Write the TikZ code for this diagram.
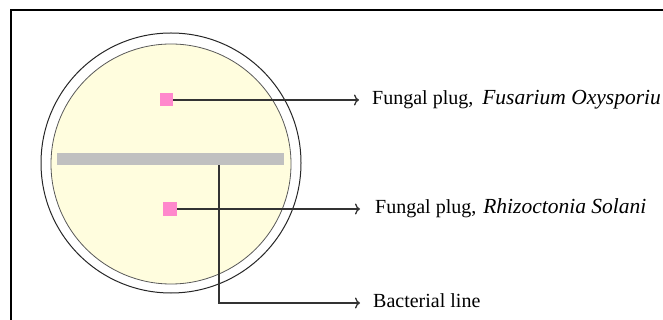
\documentclass[tikz,border=0pt]{standalone}
\usepackage{fontspec}
\setmainfont{Liberation Serif}
\usetikzlibrary{arrows.meta}
\definecolor{agarfill}{RGB}{255,253,222}
\definecolor{plugpink}{RGB}{255,136,204}
\definecolor{streakgray}{RGB}{192,192,192}
\newcommand{\species}[1]{{\fontsize{21.5}{24}\selectfont\itshape #1}}
\begin{document}
\begin{tikzpicture}[
    x=1pt, y=-1pt,
    plug/.style={rectangle, fill=plugpink, minimum size=13pt, inner sep=0pt},
    lead/.style={draw=black!80, line width=1.3pt},
    tip/.style={-{To[length=5pt,width=11pt]}},
    labeltext/.style={anchor=west, inner sep=0pt, text height=14pt, text depth=4.5pt,
      font=\fontsize{20}{24}\selectfont}
  ]
  \clip (0,0) rectangle (663,320);
  \draw[line width=2pt] (11,320) -- (11,10) -- (663,10);
  \node[circle, draw=black!85, line width=1pt, minimum size=260pt, inner sep=0pt] (plate) at (171,163) {};
  \node[circle, draw=black!65, fill=agarfill, line width=0.8pt, minimum size=240pt, inner sep=0pt] (agar) at (171,164) {};
  \node[rectangle, fill=streakgray, minimum width=227pt, minimum height=12pt, inner sep=0pt] (streak) at (170.5,159) {};
  \node[plug] (plugA) at (166.5,100) {};
  \node[plug, minimum size=14pt] (plugB) at (170,209) {};
  \coordinate (tipA) at (359,100);
  \coordinate (tipB) at (360,209);
  \coordinate (bend) at (219,303);
  \coordinate (tipC) at (360,303);
  \node[labeltext, xshift=13pt] (labA) at (tipA) {Fungal plug,\hspace{9pt}\species{Fusarium Oxysporiu}};
  \node[labeltext, xshift=15pt] (labB) at (tipB) {Fungal plug,\hspace{7pt}\species{Rhizoctonia Solani}};
  \node[labeltext, xshift=13pt] (labC) at (tipC) {Bacterial line};
  \draw[lead, tip] (plugA) -- (tipA);
  \draw[lead, tip] (plugB) -- (tipB);
  \draw[lead, tip] (bend |- streak.south) -- (bend) -- (tipC);
\end{tikzpicture}
\end{document}
